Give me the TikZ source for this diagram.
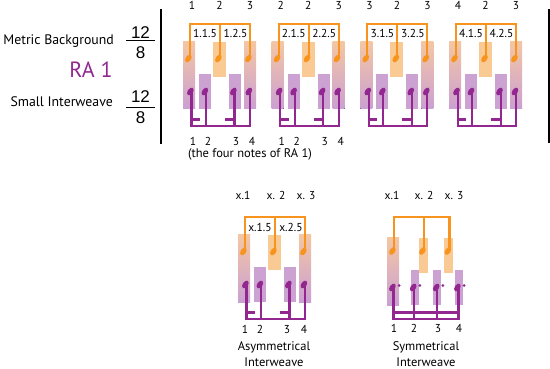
\documentclass[tikz,border=0pt]{standalone}
\usepackage{fontspec}
\setmainfont{PT Sans}
\newfontfamily\arialf{Liberation Sans}
\definecolor{orangeC}{RGB}{247,148,29}
\definecolor{purpleC}{RGB}{146,39,143}
\definecolor{orlight}{RGB}{250,202,148}
\definecolor{pulight}{RGB}{204,162,210}
\definecolor{tallTop}{RGB}{244,198,164}
\definecolor{tallBot}{RGB}{202,160,210}
\newcommand\ONote[2]{\fill[orangeC, rotate around={-35:({#1-2.4},#2)}] ({#1-2.4},#2) ellipse [x radius=2.7pt, y radius=4.3pt];}
\newcommand\PNote[2]{\fill[purpleC, rotate around={-35:({#1-1.6},#2)}] ({#1-1.6},#2) ellipse [x radius=2.7pt, y radius=4.3pt];}
\newcommand\DrawGroup{%
  \fill[top color=tallTop, bottom color=tallBot] (183,42) rectangle (195,109);
  \fill[pulight] (199,74) rectangle (211,109);
  \fill[orlight] (213,42) rectangle (226,77);
  \fill[pulight] (229,74) rectangle (241,109);
  \fill[top color=tallTop, bottom color=tallBot] (244,42) rectangle (256,109);
  \draw[obr] (190,56) -- (190,24) -- (250,24) -- (250,56);
  \draw[obr] (220,24) -- (220,56);
  \ONote{190.8}{58.5}\ONote{220.8}{58.5}\ONote{250.8}{58.5}
  \draw[pbr] (191.5,92) -- (191.5,126) -- (250,126) -- (250,92);
  \draw[pbr] (206,92) -- (206,126);
  \draw[pbr] (234.5,92) -- (234.5,126);
  \draw[pbr] (191.5,119.5) -- (200,119.5);
  \draw[pbr] (225,119.5) -- (234.5,119.5);
  \PNote{192}{91.5}\PNote{206.5}{91.5}\PNote{235}{91.5}\PNote{250.5}{91.5}
}
\begin{document}
\begin{tikzpicture}[x=1pt,y=-1pt,
  lab/.style={inner sep=0pt, anchor=base, font=\fontsize{11.5}{13}\selectfont},
  captxt/.style={inner sep=0pt, anchor=base, font=\fontsize{12.5}{14}\selectfont},
  big/.style={inner sep=0pt, anchor=base east, font=\fontsize{13.8}{16}\selectfont},
  frac/.style={inner sep=0pt, anchor=base, font=\arialf\fontsize{17}{19}\selectfont},
  obr/.style={draw=orangeC, line width=2.1pt},
  pbr/.style={draw=purpleC, line width=2.1pt},
  bar/.style={draw=black, line width=2.2pt}]
\useasboundingbox (0,0) rectangle (550,369);
% left labels
\node[big] (mb) at (114,45) {Metric Background};
\node[big] (si) at (113,107) {Small Interweave};
\node[inner sep=0pt, anchor=base, text=purpleC, font=\fontsize{22}{24}\selectfont] (ra) at (91,78) {RA 1};
\node[frac] (f1n) at (140.5,39) {12};
\node[frac] (f1d) at (140.5,58.3) {8};
\draw[line width=0.8pt] (126,40.8) -- (155,40.8);
\node[frac] (f2n) at (140.5,103) {12};
\node[frac] (f2d) at (140.5,123.3) {8};
\draw[line width=0.8pt] (126,107.3) -- (155,107.3);
% vertical bars
\coordinate (lt) at (161,9); \coordinate (lb) at (161,144);
\coordinate (rt) at (548.9,9); \coordinate (rb) at (548.9,143);
\draw[bar] (lt) -- (lb);
\draw[bar] (rt) -- (rb);
% four top groups
\foreach \g in {1,...,4}{
  \begin{scope}[shift={({(\g-1)*88.7},0)}]
    \DrawGroup
    \node[lab] (top\g a) at (192,10) {\g};
    \node[lab] (top\g b) at (219.5,10) {2};
    \node[lab] (top\g c) at (250,10) {3};
    \node[lab] (in\g a) at (205,38) {\g.1.5};
    \node[lab] (in\g b) at (235.5,38) {\g.2.5};
  \end{scope}
}
\foreach \g in {1,2}{
  \begin{scope}[shift={({(\g-1)*88.7},0)}]
    \node[lab] (bot\g a) at (193,145.3) {1};
    \node[lab] (bot\g b) at (208,145.3) {2};
    \node[lab] (bot\g c) at (236,145.3) {3};
    \node[lab] (bot\g d) at (252,145.3) {4};
  \end{scope}
}
\node[captxt] (four) at (250,157.5) {(the four notes of RA 1)};
% asymmetrical
\begin{scope}[shift={(55,193)}]
  \DrawGroup
\end{scope}
\node[lab] (ax1) at (243,200) {x.1};
\node[lab] (ax2) at (276,200) {x. 2};
\node[lab] (ax3) at (306,200) {x. 3};
\node[lab] (ai1) at (260,231.7) {x.1.5};
\node[lab] (ai2) at (291,231.7) {x.2.5};
\node[lab] (ab1) at (245,333.3) {1};
\node[lab] (ab2) at (260,333.3) {2};
\node[lab] (ab3) at (287,333.3) {3};
\node[lab] (ab4) at (304,333.3) {4};
\node[captxt] (asy1) at (274,350.7) {Asymmetrical};
\node[captxt] (asy2) at (274,366) {Interweave};
% symmetrical
\fill[top color=tallTop, bottom color=tallBot] (387,238) rectangle (399,305);
\fill[pulight] (410.7,270) rectangle (419.3,305);
\fill[orlight] (419.3,238) rectangle (428.3,273);
\fill[pulight] (432.7,270) rectangle (441.3,305);
\fill[orlight] (444,238) rectangle (452.7,273);
\fill[pulight] (455,270) rectangle (463.3,305);
\draw[obr] (394,249) -- (394,217) -- (449.5,217) -- (449.5,249);
\draw[obr] (424,217) -- (424,249);
\ONote{394.8}{251}\ONote{424.8}{251}\ONote{450.3}{251}
\draw[pbr] (393.5,288) -- (393.5,319) -- (458.5,319) -- (458.5,288);
\draw[pbr] (414.3,288) -- (414.3,319);
\draw[pbr] (437.3,288) -- (437.3,319);
\draw[pbr] (393.5,312.5) -- (458.5,312.5);
\PNote{394}{287.5}\PNote{414.8}{287.5}\PNote{437.8}{287.5}\PNote{459}{287.5}
\foreach \xx in {393.5,414.3,437.3,458.5}{\fill[purpleC] (\xx+5.5,285.5) circle (1.5pt);}
\node[lab] (sx1) at (392,200) {x.1};
\node[lab] (sx2) at (424,200) {x. 2};
\node[lab] (sx3) at (454,200) {x. 3};
\node[lab] (sb1) at (394,332.5) {1};
\node[lab] (sb2) at (414,332.5) {2};
\node[lab] (sb3) at (438,332.5) {3};
\node[lab] (sb4) at (459,332.5) {4};
\node[captxt] (sym1) at (426,350.7) {Symmetrical};
\node[captxt] (sym2) at (426,366) {Interweave};
\end{tikzpicture}
\end{document}
